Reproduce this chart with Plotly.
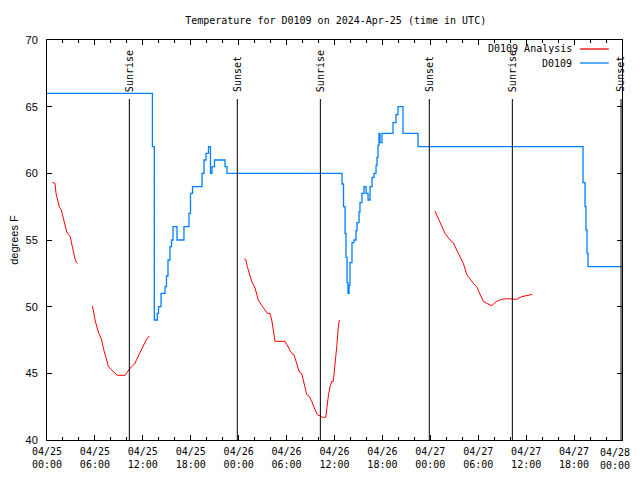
import pandas as pd
import plotly.graph_objects as go

base = pd.Timestamp("2024-04-25 00:00")

# D0109 observations (hours after base, deg F)
obs_hours = [0, 13.2, 13.44, 13.81, 13.96, 14.28, 14.78, 14.96, 15.15, 15.4, 15.59, 15.78, 16.28, 17.15, 17.78,
             17.97, 18.22, 19.41, 19.66, 19.91, 20.22, 20.47, 20.66, 20.97, 22.29, 22.54, 36.94, 37.13, 37.32,
             37.44, 37.57, 37.69, 37.82, 37.94, 38.19, 38.44, 38.69, 38.82, 39.07, 39.19, 39.44, 39.69, 39.95,
             40.2, 40.45, 40.7, 40.95, 41.2, 41.32, 41.45, 41.57, 41.7, 41.95, 43.33, 43.7, 43.95, 44.58, 46.46,
             67.12, 67.37, 67.49, 67.62, 67.75, 72]
obs_temps = [66, 62, 49, 49.5, 50, 51, 51.5, 52.3, 53.5, 54.5, 55, 56, 55, 56, 57,
             58.5, 59, 60, 61, 61.5, 62, 60, 60.5, 61, 60.5, 60, 59.2, 57.5, 55.5,
             53.7, 51.8, 51, 51.6, 53.3, 54.8, 55, 55.7, 56.3, 57.1, 57.8, 58.5, 59, 58.5,
             58, 59, 59.7, 60, 60.6, 61.2, 62.1, 63, 62.3, 63, 63.8, 64.4, 65, 63, 62,
             59.3, 57.5, 55.75, 54, 53, 53]

# D0109 Analysis segments
ana1_hours = [0.66, 1.0, 1.13, 1.29, 1.54, 1.79, 2.13, 2.47, 2.72, 2.92, 3.13, 3.38, 3.54, 3.79]
ana1_temps = [59.33, 59.25, 58.5, 58.0, 57.5, 57.25, 56.37, 55.6, 55.4, 55.25, 54.6, 54.0, 53.5, 53.25]
ana2_hours = [5.67, 5.8, 6.01, 6.22, 6.42, 6.64, 6.85, 7.05, 7.26, 7.47, 7.68, 8.1, 8.51, 8.8, 9.77, 9.98,
              10.3, 10.73, 10.98, 11.23, 11.65, 12.06, 12.48, 12.81]
ana2_temps = [50.05, 49.75, 49.0, 48.5, 48.1, 47.8, 47.5, 46.9, 46.5, 46.0, 45.5, 45.25, 45.0, 44.85, 44.85,
              45.05, 45.3, 45.6, 45.7, 46.05, 46.55, 47.07, 47.57, 47.8]
ana3_hours = [24.71, 24.92, 25.08, 25.33, 25.63, 26.05, 26.46, 26.88, 27.3, 27.59, 27.92, 28.14, 28.34, 28.55,
              29.8, 30.22, 30.64, 30.93, 31.27, 31.59, 31.89, 32.18, 32.52, 32.81, 33.15, 33.47, 33.85, 34.27,
              34.47, 34.9, 35.02, 35.22, 35.44, 35.65, 35.85, 36.06, 36.28, 36.48, 36.6]
ana3_temps = [53.57, 53.5, 53.0, 52.4, 51.9, 51.4, 50.5, 50.1, 49.75, 49.5, 49.5, 49.0, 48.25, 47.4,
              47.4, 47.0, 46.5, 46.4, 45.75, 45.1, 45.0, 44.25, 43.4, 43.3, 42.9, 42.4, 41.9, 41.8,
              41.7, 41.7, 42.4, 43.25, 44.0, 44.4, 44.4, 45.5, 47.0, 48.5, 49.0]
ana4_hours = [48.58, 49.0, 49.42, 49.84, 50.47, 50.88, 51.3, 51.72, 52.13, 52.56, 52.97, 53.38, 53.8, 54.22,
              54.63, 55.06, 55.69, 56.31, 56.94, 57.56, 58.19, 58.82, 59.44, 60.07, 60.77]
ana4_temps = [57.17, 56.6, 56.0, 55.5, 55.0, 54.8, 54.25, 53.8, 53.25, 52.4, 52.05, 51.75, 51.5, 50.9,
              50.4, 50.25, 50.07, 50.4, 50.55, 50.6, 50.6, 50.55, 50.75, 50.85, 50.92]

sun_hours = [10.31, 23.83, 34.23, 47.87, 58.27, 71.88]
sun_labels = ["Sunrise", "Sunset", "Sunrise", "Sunset", "Sunrise", "Sunset"]

tick_hours = [0, 6, 12, 18, 24, 30, 36, 42, 48, 54, 60, 66, 72]
tick_labels = ["04/25<br>00:00", "04/25<br>06:00", "04/25<br>12:00", "04/25<br>18:00",
               "04/26<br>00:00", "04/26<br>06:00", "04/26<br>12:00", "04/26<br>18:00",
               "04/27<br>00:00", "04/27<br>06:00", "04/27<br>12:00", "04/27<br>18:00",
               "04/28<br>00:00"]

title_text = "Temperature for D0109 on 2024-Apr-25 (time in UTC)"
RED = "#ff0000"
BLUE = "#0080ff"
MONO = "DejaVu Sans Mono"


def t(h):
    return base + pd.to_timedelta(h, unit="h")


ana_x, ana_y = [], []
for hs, ts in [(ana1_hours, ana1_temps), (ana2_hours, ana2_temps),
               (ana3_hours, ana3_temps), (ana4_hours, ana4_temps)]:
    ana_x += [t(h) for h in hs] + [None]
    ana_y += list(ts) + [None]

fig = go.Figure()
fig.add_trace(go.Scatter(x=ana_x, y=ana_y, mode="lines", name="D0109 Analysis",
                         line=dict(color=RED, width=1), connectgaps=False, showlegend=False))
fig.add_trace(go.Scatter(x=[t(h) for h in obs_hours], y=obs_temps, mode="lines", name="D0109",
                         line=dict(color=BLUE, width=1.3, shape="hv"), showlegend=False))

for h, lab in zip(sun_hours, sun_labels):
    fig.add_shape(type="line", xref="x", yref="paper", x0=t(h), x1=t(h), y0=0, y1=0.8525,
                  line=dict(color="black", width=1))
    fig.add_annotation(x=t(h), xref="x", yref="paper", y=0.868, yanchor="bottom", xanchor="center",
                       text=lab, textangle=-90, showarrow=False,
                       font=dict(family=MONO, size=10, color="black"), borderpad=0)

# legend (manual, gnuplot style: text then sample)
for i, (name, col) in enumerate([("D0109 Analysis", RED), ("D0109", BLUE)]):
    yp = 0.9775 - i * 0.035
    fig.add_annotation(x=0.9148, y=yp, xref="paper", yref="paper", xanchor="right", yanchor="middle",
                       text=name, showarrow=False, font=dict(family=MONO, size=10, color="black"),
                       borderpad=0)
    fig.add_shape(type="line", xref="paper", yref="paper", x0=0.927, x1=0.977, y0=yp, y1=yp,
                  line=dict(color=col, width=1.3))

# last tick label drawn as an annotation so it is not clipped at the page edge
shown_ticks = tick_labels[:-1] + [""]
fig.add_annotation(x=t(tick_hours[-1]), xref="x", yref="paper", y=0, yanchor="top", yshift=-6,
                   xanchor="right", xshift=9, text=tick_labels[-1], showarrow=False, align="center",
                   font=dict(family=MONO, size=10, color="black"), borderpad=0)

fig.update_layout(
    width=640, height=464,
    margin=dict(l=39, r=26, t=32, b=32, autoexpand=False),
    paper_bgcolor="white", plot_bgcolor="white",
    title=dict(text=title_text, x=0.512, xanchor="center", y=1 - 12 / 464, yanchor="middle",
               font=dict(family=MONO, size=10, color="black")),
    showlegend=False,
)
fig.update_xaxes(
    range=[t(0), t(72)], showgrid=False, zeroline=False, automargin=False,
    showline=True, linecolor="black", linewidth=1, mirror="allticks",
    ticks="inside", ticklen=5, tickcolor="black",
    tickvals=[t(h) for h in tick_hours], ticktext=shown_ticks,
    tickfont=dict(family=MONO, size=10, color="black"),
    ticklabelstandoff=2,
    minor=dict(ticks="inside", ticklen=3, tickcolor="black", dtick=2 * 3600 * 1000, showgrid=False),
)
fig.update_yaxes(
    range=[40, 70], dtick=5, showgrid=False, zeroline=False, automargin=False,
    showline=True, linecolor="black", linewidth=1, mirror="allticks",
    ticks="inside", ticklen=5, tickcolor="black",
    tickfont=dict(family="Liberation Sans", size=11, color="black"),
    ticklabelstandoff=6,
    title=dict(text="degrees F", font=dict(family="Liberation Sans", size=11, color="black"), standoff=11),
)

fig.write_html("out.html")
